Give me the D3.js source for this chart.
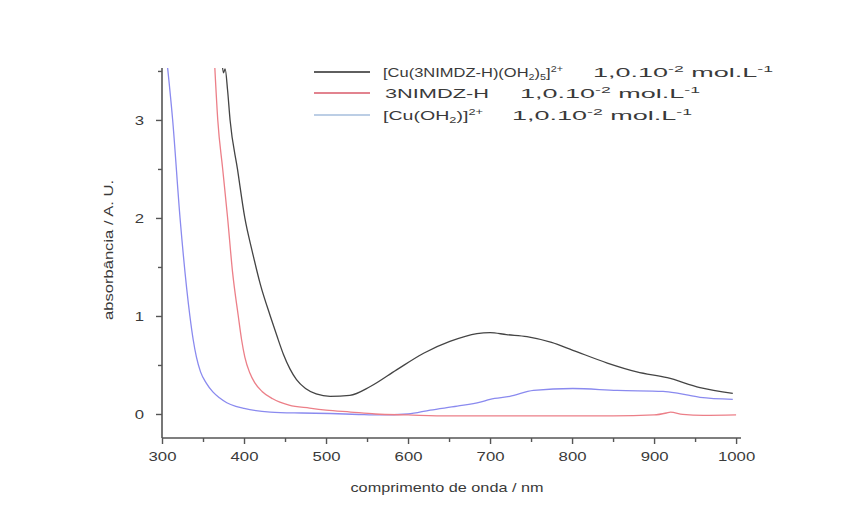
<!DOCTYPE html>
<html><head><meta charset="utf-8">
<script src="https://cdn.jsdelivr.net/npm/d3@7"></script>
<style>body{margin:0;background:#fff;} svg{display:block;font-family:"Liberation Sans",Arial,sans-serif;}</style>
</head><body><svg id="c" width="844" height="513"></svg>
<script>
// ---- data ----
const xTicks = [300,400,500,600,700,800,900,1000];
const xMinor = [350,450,550,650,750,850,950];
const yTicks = [0,1,2,3];
const yMinor = [0.5,1.5,2.5,3.5];
const complexNm  = [373,375,377,380,383,392,401,410,420,432,440,448,456,464,475,488,505,529,554,586,619,651,684,700,720,745,775,801,843,879,916,956,996];
const complexAbs = [3.6,3.48,3.52,3.3,3.0,2.5,2.0,1.66,1.32,1.0,0.8,0.61,0.46,0.35,0.26,0.205,0.18,0.19,0.28,0.45,0.62,0.74,0.82,0.83,0.81,0.79,0.73,0.65,0.52,0.43,0.37,0.27,0.21];
const ligandNm   = [364,368,374,380,386,393,397,401,407,413,422,435,455,480,500,530,560,600,650,700,750,800,850,900,915,920,935,960,1000];
const ligandAbs  = [3.6,3.0,2.5,2.0,1.45,1.0,0.76,0.58,0.42,0.32,0.23,0.155,0.09,0.06,0.04,0.02,0.0,-0.01,-0.02,-0.02,-0.02,-0.02,-0.02,-0.01,0.01,0.02,-0.005,-0.015,-0.01];
const aquaNm     = [306,313,322,334,338,342,347,354,362,370,379,390,400,432,470,505,540,566,600,627,660,688,700,724,753,801,855,911,930,956,996];
const aquaAbs    = [3.6,3.0,2.0,1.0,0.76,0.58,0.43,0.315,0.225,0.165,0.115,0.078,0.057,0.02,0.01,0.005,-0.005,-0.01,0.0,0.04,0.08,0.12,0.15,0.18,0.24,0.26,0.24,0.23,0.21,0.17,0.15];
const colors = ["#444444","#ec7f88","#8a8aef"];
const legendColors = ["#2a2a2a","#d85a6a","#a6bedc"];

const svg = d3.select("#c");
const L=162, R=741, T=68, B=438;
const x = d3.scaleLinear().domain([300,1006]).range([L,R]);
const y = d3.scaleLinear().domain([-0.245,3.53]).range([B,T]);

svg.append("clipPath").attr("id","clip").append("rect").attr("x",L).attr("y",T).attr("width",R-L).attr("height",B-T);

const line = d3.line().x(d=>x(d[0])).y(d=>y(d[1])).curve(d3.curveMonotoneX);
const sets = [[complexNm,complexAbs],[ligandNm,ligandAbs],[aquaNm,aquaAbs]];
const g = svg.append("g").attr("clip-path","url(#clip)");
[2,1,0].forEach(i=>{
  const pts = sets[i][0].map((v,k)=>[v,sets[i][1][k]]);
  g.append("path").attr("d",line(pts)).attr("fill","none").attr("stroke",colors[i]).attr("stroke-width",1.3);
});

// axes
const axCol="#555", txtCol="#3a3a3a";
const xa = svg.append("g").attr("transform",`translate(0,${B})`)
  .call(d3.axisBottom(x).tickValues(xTicks).tickSize(6).tickPadding(8).tickFormat(d3.format("d")));
const xm = svg.append("g").attr("transform",`translate(0,${B})`)
  .call(d3.axisBottom(x).tickValues(xMinor).tickSize(4).tickFormat(""));
const ya = svg.append("g").attr("transform",`translate(${L},0)`)
  .call(d3.axisLeft(y).tickValues(yTicks).tickSize(6).tickPadding(12).tickFormat(d3.format("d")));
const ym = svg.append("g").attr("transform",`translate(${L},0)`)
  .call(d3.axisLeft(y).tickValues(yMinor).tickSize(4).tickFormat(""));
[xa,xm,ya,ym].forEach(a=>{
  a.select(".domain").attr("stroke",axCol).attr("stroke-width",1.6);
  a.selectAll(".tick line").attr("stroke",axCol).attr("stroke-width",1.4);
  a.selectAll("text").attr("fill",txtCol).attr("font-size",13).attr("font-family","Liberation Sans, Arial, sans-serif")
    .attr("textLength",function(){return this.textContent.length*9.3;}).attr("lengthAdjust","spacingAndGlyphs");
});
ya.select(".domain").attr("d",`M0,${B}V${T}`);
xa.select(".domain").attr("d",`M${L},0H${R}`);
xm.select(".domain").remove(); ym.select(".domain").remove();

// axis titles
svg.append("text").attr("x",447).attr("y",492).attr("text-anchor","middle").attr("font-size",13).attr("fill",txtCol)
  .attr("textLength",193).attr("lengthAdjust","spacingAndGlyphs").text("comprimento de onda / nm");
svg.append("text").attr("transform","translate(113,250) rotate(-90)").attr("text-anchor","middle").attr("font-size",13).attr("fill",txtCol)
  .attr("textLength",140).attr("lengthAdjust","spacingAndGlyphs").text("absorbância / A. U.");

// legend
const legY=[72,93,115];
const lg = svg.append("g").attr("font-size",13).attr("fill",txtCol);
function rich(xp, yp, w, parts){
  const t = lg.append("text").attr("x",xp).attr("y",yp).attr("textLength",w).attr("lengthAdjust","spacingAndGlyphs");
  let shift=0;
  parts.forEach(p=>{
    const target = p[1]==="sub"?3:(p[1]==="sup"?-5:0);
    t.append("tspan").attr("dy",target-shift).attr("font-size",p[1]?8.5:13).text(p[0]);
    shift=target;
  });
}
legendColors.forEach((c,i)=>{
  lg.append("line").attr("x1",314).attr("x2",370).attr("y1",legY[i]).attr("y2",legY[i]).attr("stroke",c).attr("stroke-width",1.6);
});
const conc = [["1,0.10"],["-2","sup"],[" mol.L"],["-1","sup"]];
rich(383, legY[0]+5, 180, [["[Cu(3NIMDZ-H)(OH"],["2","sub"],[")"],["5","sub"],["]"],["2+","sup"]]);
rich(593, legY[0]+5, 180, conc);
rich(385, legY[1]+5, 104, [["3NIMDZ-H"]]);
rich(520, legY[1]+5, 180, conc);
rich(383, legY[2]+5, 100, [["[Cu(OH"],["2","sub"],[")]"],["2+","sup"]]);
rich(512, legY[2]+5, 180, conc);
</script></body></html>
